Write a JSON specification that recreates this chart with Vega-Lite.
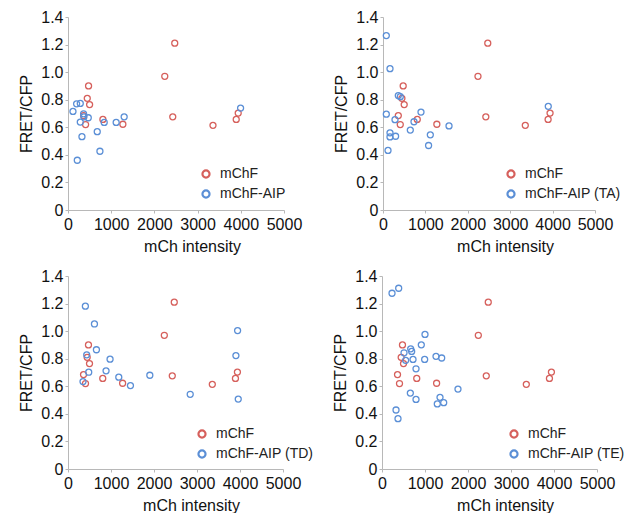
{
  "$schema": "https://vega.github.io/schema/vega-lite/v6.json",
  "padding": {"left": 18, "top": 9, "right": 0, "bottom": 0},
  "background": "white",
  "config": {
    "view": {"stroke": null},
    "font": "Liberation Sans",
    "axis": {
      "grid": false,
      "domainColor": "#b8b8b8",
      "tickColor": "#b8b8b8",
      "tickSize": 3,
      "labelFont": "Liberation Sans",
      "labelFontSize": 16,
      "labelColor": "#111111",
      "labelOverlap": false,
      "labelFlush": false,
      "titleFont": "Liberation Sans",
      "titleFontSize": 16,
      "titleFontWeight": "normal",
      "titleColor": "#111111"
    },
    "axisX": {"labelPadding": 3, "titlePadding": 6, "labelAngle": 0, "format": "d"},
    "axisY": {"labelPadding": 2, "titlePadding": 6},
    "legend": {
      "labelFont": "Liberation Sans",
      "labelFontSize": 14,
      "labelColor": "#222222",
      "symbolType": "circle",
      "symbolSize": 50,
      "symbolStrokeWidth": 2.2,
      "labelOffset": 7,
      "rowPadding": 4,
      "padding": 0
    }
  },
  "data": {
    "values": [
      {"panel": "all", "series": "mChF", "x": 476, "y": 0.9},
      {"panel": "all", "series": "mChF", "x": 446, "y": 0.81},
      {"panel": "all", "series": "mChF", "x": 500, "y": 0.765},
      {"panel": "all", "series": "mChF", "x": 361, "y": 0.685},
      {"panel": "all", "series": "mChF", "x": 407, "y": 0.62},
      {"panel": "all", "series": "mChF", "x": 808, "y": 0.657},
      {"panel": "all", "series": "mChF", "x": 1270, "y": 0.622},
      {"panel": "all", "series": "mChF", "x": 2240, "y": 0.97},
      {"panel": "all", "series": "mChF", "x": 2471, "y": 1.21},
      {"panel": "all", "series": "mChF", "x": 2425, "y": 0.676},
      {"panel": "all", "series": "mChF", "x": 3356, "y": 0.614},
      {"panel": "all", "series": "mChF", "x": 3894, "y": 0.657},
      {"panel": "all", "series": "mChF", "x": 3940, "y": 0.703},

      {"panel": "AIP", "series": "mChF-AIP", "x": 115, "y": 0.715},
      {"panel": "AIP", "series": "mChF-AIP", "x": 199, "y": 0.77},
      {"panel": "AIP", "series": "mChF-AIP", "x": 284, "y": 0.773},
      {"panel": "AIP", "series": "mChF-AIP", "x": 361, "y": 0.698},
      {"panel": "AIP", "series": "mChF-AIP", "x": 369, "y": 0.676},
      {"panel": "AIP", "series": "mChF-AIP", "x": 469, "y": 0.669},
      {"panel": "AIP", "series": "mChF-AIP", "x": 284, "y": 0.638},
      {"panel": "AIP", "series": "mChF-AIP", "x": 323, "y": 0.532},
      {"panel": "AIP", "series": "mChF-AIP", "x": 215, "y": 0.361},
      {"panel": "AIP", "series": "mChF-AIP", "x": 677, "y": 0.568},
      {"panel": "AIP", "series": "mChF-AIP", "x": 739, "y": 0.426},
      {"panel": "AIP", "series": "mChF-AIP", "x": 838, "y": 0.635},
      {"panel": "AIP", "series": "mChF-AIP", "x": 1115, "y": 0.635},
      {"panel": "AIP", "series": "mChF-AIP", "x": 1300, "y": 0.676},
      {"panel": "AIP", "series": "mChF-AIP", "x": 3995, "y": 0.739},

      {"panel": "TA", "series": "mChF-AIP (TA)", "x": 78, "y": 1.265},
      {"panel": "TA", "series": "mChF-AIP (TA)", "x": 165, "y": 1.025},
      {"panel": "TA", "series": "mChF-AIP (TA)", "x": 361, "y": 0.83},
      {"panel": "TA", "series": "mChF-AIP (TA)", "x": 408, "y": 0.822},
      {"panel": "TA", "series": "mChF-AIP (TA)", "x": 78, "y": 0.695},
      {"panel": "TA", "series": "mChF-AIP (TA)", "x": 283, "y": 0.655},
      {"panel": "TA", "series": "mChF-AIP (TA)", "x": 165, "y": 0.56},
      {"panel": "TA", "series": "mChF-AIP (TA)", "x": 165, "y": 0.53},
      {"panel": "TA", "series": "mChF-AIP (TA)", "x": 297, "y": 0.535},
      {"panel": "TA", "series": "mChF-AIP (TA)", "x": 118, "y": 0.432},
      {"panel": "TA", "series": "mChF-AIP (TA)", "x": 644, "y": 0.58},
      {"panel": "TA", "series": "mChF-AIP (TA)", "x": 731, "y": 0.64},
      {"panel": "TA", "series": "mChF-AIP (TA)", "x": 896, "y": 0.71},
      {"panel": "TA", "series": "mChF-AIP (TA)", "x": 1116, "y": 0.545},
      {"panel": "TA", "series": "mChF-AIP (TA)", "x": 1075, "y": 0.468},
      {"panel": "TA", "series": "mChF-AIP (TA)", "x": 1557, "y": 0.61},
      {"panel": "TA", "series": "mChF-AIP (TA)", "x": 3898, "y": 0.752},

      {"panel": "TD", "series": "mChF-AIP (TD)", "x": 404, "y": 1.181},
      {"panel": "TD", "series": "mChF-AIP (TD)", "x": 615, "y": 1.052},
      {"panel": "TD", "series": "mChF-AIP (TD)", "x": 661, "y": 0.865},
      {"panel": "TD", "series": "mChF-AIP (TD)", "x": 435, "y": 0.828},
      {"panel": "TD", "series": "mChF-AIP (TD)", "x": 978, "y": 0.797},
      {"panel": "TD", "series": "mChF-AIP (TD)", "x": 885, "y": 0.712},
      {"panel": "TD", "series": "mChF-AIP (TD)", "x": 482, "y": 0.702},
      {"panel": "TD", "series": "mChF-AIP (TD)", "x": 349, "y": 0.634},
      {"panel": "TD", "series": "mChF-AIP (TD)", "x": 1181, "y": 0.666},
      {"panel": "TD", "series": "mChF-AIP (TD)", "x": 1452, "y": 0.605},
      {"panel": "TD", "series": "mChF-AIP (TD)", "x": 1903, "y": 0.68},
      {"panel": "TD", "series": "mChF-AIP (TD)", "x": 2842, "y": 0.542},
      {"panel": "TD", "series": "mChF-AIP (TD)", "x": 3944, "y": 1.004},
      {"panel": "TD", "series": "mChF-AIP (TD)", "x": 3905, "y": 0.823},
      {"panel": "TD", "series": "mChF-AIP (TD)", "x": 3959, "y": 0.507},

      {"panel": "TE", "series": "mChF-AIP (TE)", "x": 233, "y": 1.275},
      {"panel": "TE", "series": "mChF-AIP (TE)", "x": 388, "y": 1.311},
      {"panel": "TE", "series": "mChF-AIP (TE)", "x": 1000, "y": 0.976},
      {"panel": "TE", "series": "mChF-AIP (TE)", "x": 914, "y": 0.901},
      {"panel": "TE", "series": "mChF-AIP (TE)", "x": 667, "y": 0.872},
      {"panel": "TE", "series": "mChF-AIP (TE)", "x": 690, "y": 0.853},
      {"panel": "TE", "series": "mChF-AIP (TE)", "x": 512, "y": 0.843},
      {"panel": "TE", "series": "mChF-AIP (TE)", "x": 550, "y": 0.788},
      {"panel": "TE", "series": "mChF-AIP (TE)", "x": 721, "y": 0.795},
      {"panel": "TE", "series": "mChF-AIP (TE)", "x": 992, "y": 0.795},
      {"panel": "TE", "series": "mChF-AIP (TE)", "x": 1256, "y": 0.817},
      {"panel": "TE", "series": "mChF-AIP (TE)", "x": 1388, "y": 0.805},
      {"panel": "TE", "series": "mChF-AIP (TE)", "x": 791, "y": 0.727},
      {"panel": "TE", "series": "mChF-AIP (TE)", "x": 1767, "y": 0.58},
      {"panel": "TE", "series": "mChF-AIP (TE)", "x": 659, "y": 0.551},
      {"panel": "TE", "series": "mChF-AIP (TE)", "x": 791, "y": 0.505},
      {"panel": "TE", "series": "mChF-AIP (TE)", "x": 1349, "y": 0.52},
      {"panel": "TE", "series": "mChF-AIP (TE)", "x": 1286, "y": 0.472},
      {"panel": "TE", "series": "mChF-AIP (TE)", "x": 1435, "y": 0.481},
      {"panel": "TE", "series": "mChF-AIP (TE)", "x": 326, "y": 0.428},
      {"panel": "TE", "series": "mChF-AIP (TE)", "x": 372, "y": 0.365}
    ]
  },
  "spacing": 14,
  "resolve": {"scale": {"color": "independent"}},
  "vconcat": [
    {
      "spacing": 31,
      "resolve": {"scale": {"color": "independent"}},
      "hconcat": [
        {
          "width": 216, "height": 193,
          "transform": [{"filter": "datum.panel === 'all' || datum.panel === 'AIP'"}],
          "mark": {"type": "point", "shape": "circle", "filled": false, "size": 36, "strokeWidth": 1.3, "opacity": 1},
          "encoding": {
            "x": {"field": "x", "type": "quantitative", "scale": {"domain": [0, 5000], "nice": false}, "axis": {"title": "mCh intensity", "values": [0, 1000, 2000, 3000, 4000, 5000], "titleX": 124}},
            "y": {"field": "y", "type": "quantitative", "scale": {"domain": [0, 1.4], "nice": false}, "axis": {"title": "FRET/CFP", "values": [0, 0.2, 0.4, 0.6, 0.8, 1.0, 1.2, 1.4], "labelExpr": "datum.value == 0 ? '0' : format(datum.value, '.1f')"}},
            "color": {"field": "series", "type": "nominal", "scale": {"domain": ["mChF", "mChF-AIP"], "range": ["#d6605c", "#5b8fd6"]}, "legend": {"title": null, "orient": "none", "legendX": 131, "legendY": 150}}
          }
        },
        {
          "width": 212, "height": 193,
          "transform": [{"filter": "datum.panel === 'all' || datum.panel === 'TA'"}],
          "mark": {"type": "point", "shape": "circle", "filled": false, "size": 36, "strokeWidth": 1.3, "opacity": 1},
          "encoding": {
            "x": {"field": "x", "type": "quantitative", "scale": {"domain": [0, 5000], "nice": false}, "axis": {"title": "mCh intensity", "values": [0, 1000, 2000, 3000, 4000, 5000], "titleX": 122}},
            "y": {"field": "y", "type": "quantitative", "scale": {"domain": [0, 1.4], "nice": false}, "axis": {"title": "FRET/CFP", "values": [0, 0.2, 0.4, 0.6, 0.8, 1.0, 1.2, 1.4], "labelExpr": "datum.value == 0 ? '0' : format(datum.value, '.1f')"}},
            "color": {"field": "series", "type": "nominal", "scale": {"domain": ["mChF", "mChF-AIP (TA)"], "range": ["#d6605c", "#5b8fd6"]}, "legend": {"title": null, "orient": "none", "legendX": 121, "legendY": 150}}
          }
        }
      ]
    },
    {
      "spacing": 18,
      "resolve": {"scale": {"color": "independent"}},
      "hconcat": [
        {
          "width": 215, "height": 193,
          "transform": [{"filter": "datum.panel === 'all' || datum.panel === 'TD'"}],
          "mark": {"type": "point", "shape": "circle", "filled": false, "size": 36, "strokeWidth": 1.3, "opacity": 1},
          "encoding": {
            "x": {"field": "x", "type": "quantitative", "scale": {"domain": [0, 5000], "nice": false}, "axis": {"title": "mCh intensity", "values": [0, 1000, 2000, 3000, 4000, 5000], "titleX": 123}},
            "y": {"field": "y", "type": "quantitative", "scale": {"domain": [0, 1.4], "nice": false}, "axis": {"title": "FRET/CFP", "values": [0, 0.2, 0.4, 0.6, 0.8, 1.0, 1.2, 1.4], "labelExpr": "datum.value == 0 ? '0' : format(datum.value, '.1f')"}},
            "color": {"field": "series", "type": "nominal", "scale": {"domain": ["mChF", "mChF-AIP (TD)"], "range": ["#d6605c", "#5b8fd6"]}, "legend": {"title": null, "orient": "none", "legendX": 127, "legendY": 151}}
          }
        },
        {
          "width": 215, "height": 193,
          "transform": [{"filter": "datum.panel === 'all' || datum.panel === 'TE'"}],
          "mark": {"type": "point", "shape": "circle", "filled": false, "size": 36, "strokeWidth": 1.3, "opacity": 1},
          "encoding": {
            "x": {"field": "x", "type": "quantitative", "scale": {"domain": [0, 5000], "nice": false}, "axis": {"title": "mCh intensity", "values": [0, 1000, 2000, 3000, 4000, 5000], "titleX": 123}},
            "y": {"field": "y", "type": "quantitative", "scale": {"domain": [0, 1.4], "nice": false}, "axis": {"title": "FRET/CFP", "values": [0, 0.2, 0.4, 0.6, 0.8, 1.0, 1.2, 1.4], "labelExpr": "datum.value == 0 ? '0' : format(datum.value, '.1f')"}},
            "color": {"field": "series", "type": "nominal", "scale": {"domain": ["mChF", "mChF-AIP (TE)"], "range": ["#d6605c", "#5b8fd6"]}, "legend": {"title": null, "orient": "none", "legendX": 125, "legendY": 151}}
          }
        }
      ]
    }
  ]
}
